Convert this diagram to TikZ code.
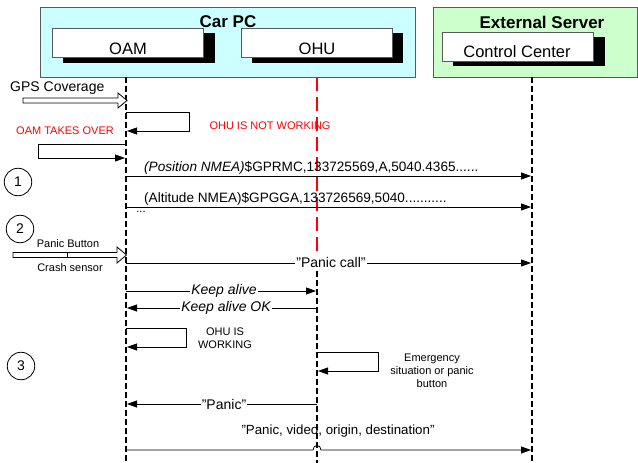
\documentclass[tikz,border=0pt]{standalone}
\usepackage{fontspec}
\setmainfont{Liberation Sans}
\usetikzlibrary{arrows.meta}
\definecolor{carpcfill}{RGB}{204,255,255}
\definecolor{extfill}{RGB}{204,255,204}
\definecolor{edgegray}{RGB}{90,90,90}
\definecolor{alertred}{RGB}{255,0,0}
\newcommand{\sq}{\symbol{34}}
\begin{document}
\begin{tikzpicture}[x=1pt,y=-1pt,
  grp/.style={draw=edgegray,line width=1pt},
  objbox/.style={draw=edgegray,fill=white,line width=0.8pt},
  shadowbox/.style={fill=black},
  grptitle/.style={font=\bfseries\fontsize{17}{19}\selectfont,inner sep=0pt},
  objtext/.style={font=\fontsize{16.5}{18}\selectfont,inner sep=0pt},
  life/.style={line width=1.8pt,dash pattern=on 6pt off 3pt},
  redlife/.style={line width=1.8pt,dash pattern=on 14pt off 6pt,draw=alertred},
  msg/.style={line width=0.8pt,-{Triangle[length=10pt,width=7pt]}},
  lbl/.style={font=\fontsize{14}{16}\selectfont,fill=white,inner sep=1pt},
  datatext/.style={font=\fontsize{13.6}{16}\selectfont,inner sep=1pt,anchor=south west},
  small/.style={font=\fontsize{11}{13}\selectfont,align=center,inner sep=0pt},
  redtext/.style={small,text=alertred},
  num/.style={draw,circle,minimum size=27.5pt,inner sep=0pt,line width=0.8pt,font=\fontsize{14}{16}\selectfont},
  hollow/.style={draw,fill=white,line width=0.8pt}
]
\useasboundingbox (0,0) rectangle (638,463);

% group boxes
\draw[grp,fill=carpcfill] (40,7) rectangle (415,77);
\draw[grp,fill=extfill] (433,7) rectangle (637,77);
\node[grptitle] (carpc) at (228,22) {Car PC};
\node[grptitle] (extsrv) at (542,22) {External Server};

% object boxes
\fill[shadowbox] (63,33) rectangle (215,63);
\draw[objbox] (52,28) rectangle (203,57);
\node[objtext] (oam) at (128,49) {OAM};
\fill[shadowbox] (252,33) rectangle (403,63);
\draw[objbox] (241,28) rectangle (392,57);
\node[objtext] (ohu) at (317,49) {OHU};
\fill[shadowbox] (453,37) rectangle (605,66);
\draw[objbox] (442,32) rectangle (593,61);
\node[objtext] (cc) at (517,52) {Control Center};

% lifelines
\coordinate (oamtop) at (126,77);
\coordinate (oambot) at (126,463);
\coordinate (ohutop) at (317,77);
\coordinate (ohumid) at (317,262);
\coordinate (ohubot) at (317,463);
\coordinate (cctop) at (532,77);
\coordinate (ccbot) at (532,463);
\draw[life] (oamtop) -- (oambot);
\draw[redlife] (ohutop) -- (ohumid);
\draw[life] (ohumid) -- (ohubot);
\draw[life] (cctop) -- (ccbot);

% GPS coverage
\node[font=\fontsize{14}{16}\selectfont,inner sep=0pt,anchor=west] (gps) at (10,88) {GPS Coverage};
\draw[hollow] (23,98) -- (118,98) -- (118,93) -- (127,100.5) -- (118,108) -- (118,103) -- (23,103) -- cycle;

% OAM self loop
\coordinate (l1a) at (126,112);
\coordinate (l1b) at (189,112);
\coordinate (l1c) at (189,131);
\coordinate (l1d) at (127,131);
\draw[msg] (l1a) -- (l1b) -- (l1c) -- (l1d);
\node[redtext] (takes) at (65,131) {OAM TAKES OVER};
\node[redtext] (notwork) at (270,126) {OHU IS NOT WORKING};

% left loop
\coordinate (l2a) at (126,144);
\coordinate (l2b) at (38,144);
\coordinate (l2c) at (38,158);
\coordinate (l2d) at (125,158);
\draw[msg] (l2a) -- (l2b) -- (l2c) -- (l2d);

% step 1
\node[num] (n1) at (18,182) {1};
\coordinate (m1a) at (126,176);
\coordinate (m1b) at (531,176);
\draw[msg] (m1a) -- (m1b);
\node[datatext] (pos) at (143,176) {{\itshape (Position NMEA)}\$GPRMC,133725569,A,5040.4365......};
\coordinate (m2a) at (126,207);
\coordinate (m2b) at (531,207);
\draw[msg] (m2a) -- (m2b);
\node[datatext] (alt) at (143,207) {(Altitude NMEA)\$GPGGA,133726569,5040...........};
\node[small] (dots) at (141,212) {...};

% step 2
\node[num] (n2) at (20,229) {2};
\draw[hollow] (13,252.5) -- (117,252.5) -- (117,247) -- (126.5,255) -- (117,263) -- (117,257.5) -- (13,257.5) -- cycle;
\coordinate (tk1) at (67,252.5);
\coordinate (tk2) at (67,257.5);
\draw[line width=0.6pt] (tk1) -- (tk2);
\node[small] (pbutton) at (68,244) {Panic Button};
\node[small] (crash) at (70,268) {Crash sensor};
\coordinate (m3a) at (126,263);
\coordinate (m3b) at (531,263);
\draw[msg] (m3a) -- (m3b);
\node[lbl] (pcall) at (331,262) {\sq Panic call\sq};

% keep alive
\coordinate (m4a) at (126,291);
\coordinate (m4b) at (316,291);
\draw[msg] (m4a) -- (m4b);
\node[lbl,font=\itshape\fontsize{14}{16}\selectfont] (ka) at (224,291) {Keep alive};
\coordinate (m5a) at (317,308);
\coordinate (m5b) at (127,308);
\draw[msg] (m5a) -- (m5b);
\node[lbl,font=\itshape\fontsize{14}{16}\selectfont] (kaok) at (226,308) {Keep alive OK};

% OHU is working loop
\coordinate (l3a) at (126,328);
\coordinate (l3b) at (186,328);
\coordinate (l3c) at (186,347);
\coordinate (l3d) at (127,347);
\draw[msg] (l3a) -- (l3b) -- (l3c) -- (l3d);
\node[small] (working) at (225,338) {OHU IS\\WORKING};

% step 3
\node[num] (n3) at (21,366) {3};
\coordinate (l4a) at (317,352);
\coordinate (l4b) at (378,352);
\coordinate (l4c) at (378,371);
\coordinate (l4d) at (318,371);
\draw[msg] (l4a) -- (l4b) -- (l4c) -- (l4d);
\node[small] (emerg) at (432,371) {Emergency\\situation or panic\\button};

\coordinate (m6a) at (317,404);
\coordinate (m6b) at (127,404);
\draw[msg] (m6a) -- (m6b);
\node[lbl] (panic) at (224,404) {\sq Panic\sq};

\coordinate (m7a) at (126,450);
\coordinate (h1) at (313,450);
\coordinate (h2) at (321,450);
\coordinate (m7b) at (531,450);
\draw[msg] (m7a) -- (h1) .. controls (313,444) and (321,444) .. (h2) -- (m7b);
\node[font=\fontsize{13.3}{16}\selectfont,inner sep=0pt] (pvideo) at (338,431) {\sq Panic, video, origin, destination\sq};
\end{tikzpicture}
\end{document}
